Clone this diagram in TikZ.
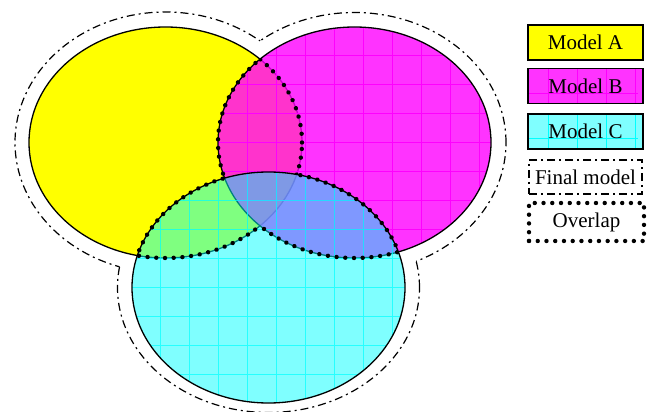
\documentclass[tikz,border=0pt]{standalone}
\usepackage{fontspec}
\setmainfont{Liberation Serif}
\usetikzlibrary{calc, decorations.markings}

\definecolor{modelA}{RGB}{255,255,0}
\definecolor{modelB}{RGB}{255,0,255}
\definecolor{modelC}{RGB}{0,255,255}

\tikzset{
  setline/.style={draw=black, line width=1.3pt},
  finalline/.style={draw=black, line width=1.2pt, dash pattern=on 8pt off 4pt on 2pt off 4pt},
  overlapdots/.style={postaction={decorate, decoration={markings,
    mark=between positions 0 and 1 step 8.74pt with {\fill[black] (0,0) circle (2.2pt);}}}},
  gridlines/.style={step=29pt, line width=0.8pt},
  legendbox/.style={minimum width=115pt, minimum height=35pt, inner sep=0pt,
    font=\fontsize{21}{25}\selectfont},
}

% the three models and the dash-dot hull round them
\newcommand{\pathA}{(cA) ellipse [x radius=136.5pt, y radius=115.5pt]}
\newcommand{\pathB}{(cB) ellipse [x radius=136.5pt, y radius=115.5pt]}
\newcommand{\pathC}{(cC) ellipse [x radius=136.5pt, y radius=115.5pt]}
\newcommand{\hullA}{(cA) ellipse [x radius=150.5pt, y radius=130.5pt]}
\newcommand{\hullB}{(cB) ellipse [x radius=151.5pt, y radius=130pt]}
\newcommand{\hullC}{(cC) ellipse [x radius=151pt, y radius=125pt]}

\begin{document}
\begin{tikzpicture}[x=1pt, y=-1pt]
  \useasboundingbox (0,0) rectangle (657,412);
  \coordinate (cA) at (165.5,142.5);
  \coordinate (cB) at (354.5,142.5);
  \coordinate (cC) at (268.5,287.5);

  % final model: each outer ellipse, outside the other two
  \begin{scope}[even odd rule]
    \clip (-20,-20) rectangle (700,450) \hullB;
    \clip (-20,-20) rectangle (700,450) \hullC;
    \draw[finalline] \hullA;
  \end{scope}
  \begin{scope}[even odd rule]
    \clip (-20,-20) rectangle (700,450) \hullA;
    \clip (-20,-20) rectangle (700,450) \hullC;
    \draw[finalline] \hullB;
  \end{scope}
  \begin{scope}[even odd rule]
    \clip (-20,-20) rectangle (700,450) \hullA;
    \clip (-20,-20) rectangle (700,450) \hullB;
    \draw[finalline] \hullC;
  \end{scope}

  \fill[modelA] \pathA;
  \draw[setline] \pathA;

  \fill[modelB, fill opacity=0.8] \pathB;
  \begin{scope}
    \clip \pathB;
    \draw[gridlines, modelB, shift={(15,26)}] (-40,-40) grid (680,440);
  \end{scope}
  \draw[setline] \pathB;

  \fill[modelC, fill opacity=0.5] \pathC;
  \begin{scope}
    \clip \pathC;
    \draw[gridlines, modelC, draw opacity=0.7, shift={(15,26)}] (-40,-40) grid (680,440);
  \end{scope}
  \draw[setline] \pathC;

  % overlap: points that lie in two models or more
  \begin{scope}[even odd rule]
    \clip \pathB \pathC;
    \path[overlapdots] \pathA;
  \end{scope}
  \begin{scope}[even odd rule]
    \clip \pathA \pathC;
    \path[overlapdots] \pathB;
  \end{scope}
  \begin{scope}[even odd rule]
    \clip \pathA \pathB;
    \path[overlapdots] \pathC;
  \end{scope}

  % legend
  \node[legendbox, setline, fill=modelA] (legA) at (585.5,42.5) {Model A};
  \node[legendbox, setline, fill=modelB, fill opacity=0.8, text opacity=1,
    path picture={\draw[gridlines, modelB, shift={(3,11.5)}] (-90,-40) grid (90,40);}]
    (legB) at (585.5,86) {Model B};
  \node[legendbox, setline, fill=modelC, fill opacity=0.5, text opacity=1,
    path picture={\draw[gridlines, modelC, shift={(3,11.5)}] (-90,-40) grid (90,40);}]
    (legC) at (585.5,131.5) {Model C};
  \node[legendbox, finalline, minimum width=113pt, minimum height=34pt] (legF) at (585.5,177) {Final model};
  \node[legendbox, overlapdots, minimum height=38pt] (legO) at (586.5,222) {Overlap};
\end{tikzpicture}
\end{document}
